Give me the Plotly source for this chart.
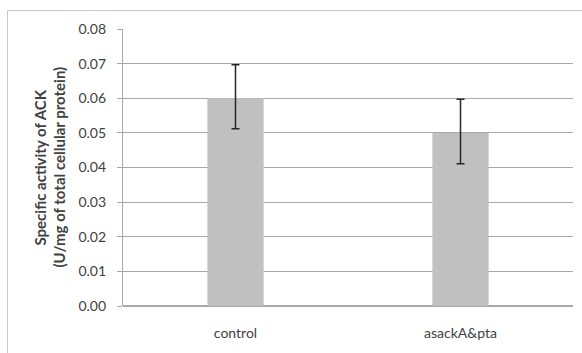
import plotly.graph_objects as go

categories = ["control", "asackA&pta"]
values = [0.060, 0.050]
err_plus = [0.0097, 0.0097]
err_minus = [0.0088, 0.0089]
y_ticks = [0.00, 0.01, 0.02, 0.03, 0.04, 0.05, 0.06, 0.07, 0.08]
y_title_lines = ["Specific activity of ACK", "(U/mg of total cellular protein)"]

font_family = "Lato, Open Sans, sans-serif"
text_color = "#404040"
grid_color = "#a8a8a8"

fig = go.Figure()
fig.add_trace(go.Bar(
    x=categories,
    y=values,
    marker=dict(color="#c0c0c0", line=dict(width=0)),
    error_y=dict(type="data", symmetric=False, array=err_plus, arrayminus=err_minus,
                 color="#262626", thickness=1.5, width=4),
    width=0.25,
))

W, H = 582, 353
ml, mr, mt, mb = 123, 9, 29, 47
pw = W - ml - mr
ph = H - mt - mb

def px_x(p):
    return (p - ml) / pw

def px_y(p):
    return (H - mb - p) / ph

fig.update_layout(
    width=W, height=H,
    margin=dict(l=ml, r=mr, t=mt, b=mb, pad=0, autoexpand=False),
    paper_bgcolor="white", plot_bgcolor="white",
    showlegend=False,
    font=dict(family=font_family, color=text_color, size=13),
    xaxis=dict(
        showgrid=False, showline=False, zeroline=False, automargin=False,
        ticks="", tickfont=dict(size=14, color=text_color),
        ticklabelstandoff=17,
    ),
    yaxis=dict(
        range=[0, 0.08], tickvals=y_ticks, automargin=False,
        ticktext=[f"{v:.2f}" for v in y_ticks],
        showgrid=True, gridcolor=grid_color, gridwidth=1.2,
        showline=True, linecolor=grid_color, linewidth=1.2,
        zeroline=True, zerolinecolor=grid_color, zerolinewidth=1.5,
        ticks="outside", ticklen=5, tickcolor=grid_color, tickwidth=1.2,
        tickfont=dict(size=14, color=text_color),
        ticklabelstandoff=8,
    ),
    shapes=[dict(
        type="rect", xref="paper", yref="paper",
        x0=px_x(7.5), x1=px_x(600), y0=px_y(380), y1=px_y(10.5),
        line=dict(color="#c8c8c8", width=1), fillcolor="rgba(0,0,0,0)",
        layer="below",
    )],
    annotations=[
        dict(text=y_title_lines[0], xref="paper", yref="paper",
             x=px_x(39), y=0.5, textangle=-90, showarrow=False,
             font=dict(size=15, color=text_color, family=font_family, weight="bold"),
             xanchor="center", yanchor="middle"),
        dict(text=y_title_lines[1], xref="paper", yref="paper",
             x=px_x(58), y=0.5, textangle=-90, showarrow=False,
             font=dict(size=15, color=text_color, family=font_family, weight="bold"),
             xanchor="center", yanchor="middle"),
    ],
)

fig.write_html("out.html", config={"displayModeBar": False},
               post_script="document.body.style.margin='0px';")
